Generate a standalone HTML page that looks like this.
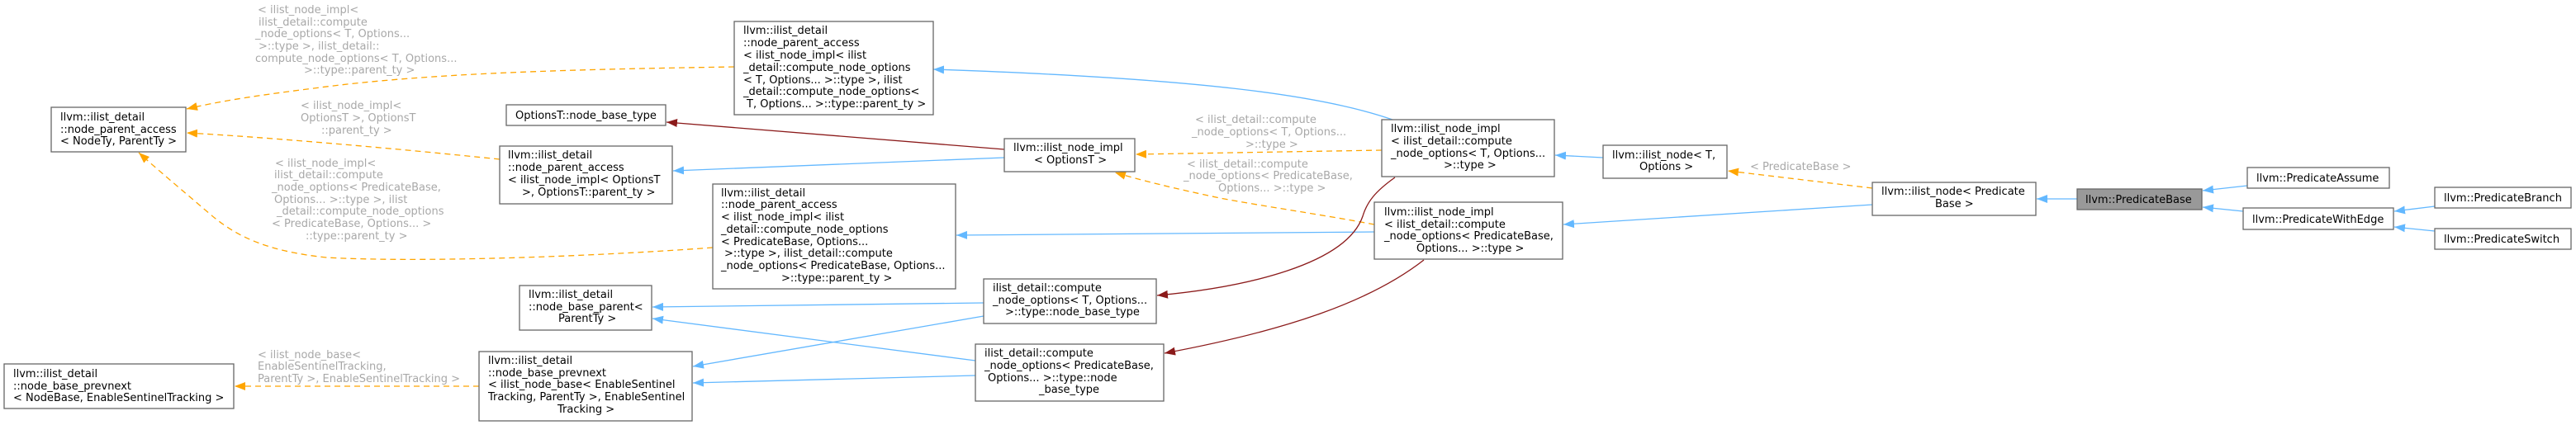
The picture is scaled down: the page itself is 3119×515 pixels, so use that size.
<!DOCTYPE html>
<html><head><meta charset="utf-8"><style>
html,body{margin:0;padding:0;background:#fff}
svg{display:block}
text{font-family:"DejaVu Sans","Liberation Sans",sans-serif;font-size:13px;fill:#000}
.l text, text.l{fill:#a8a8a8}
.n{fill:#fff;stroke:#666;stroke-width:1.3}
.b{fill:none;stroke:#63b8ff;stroke-width:1.3}
.o{fill:none;stroke:#ffa500;stroke-width:1.3;stroke-dasharray:7,5}
.r{fill:none;stroke:#8b1a1a;stroke-width:1.3}
</style></head><body>
<svg width="3119" height="515" viewBox="0 0 3119 515" xmlns="http://www.w3.org/2000/svg">
<defs>
<marker id="mb" markerWidth="14" markerHeight="10" refX="13" refY="5" orient="auto" markerUnits="userSpaceOnUse"><path d="M0,0 L13,5 L0,10 z" fill="#63b8ff"/></marker>
<marker id="mo" markerWidth="14" markerHeight="10" refX="13" refY="5" orient="auto" markerUnits="userSpaceOnUse"><path d="M0,0 L13,5 L0,10 z" fill="#ffa500"/></marker>
<marker id="mr" markerWidth="14" markerHeight="10" refX="13" refY="5" orient="auto" markerUnits="userSpaceOnUse"><path d="M0,0 L13,5 L0,10 z" fill="#8b1a1a"/></marker>
</defs>

<!-- edges -->
<path class="o" marker-end="url(#mo)" d="M889,81 C700,84 520,88 380,107 C300,117 260,124 226,132"/>
<path class="o" marker-end="url(#mo)" d="M605,193 C480,180 320,166 226,161"/>
<path class="o" marker-end="url(#mo)" d="M863,300 C700,312 500,318 395,312 C330,305 290,290 255,260 C220,230 190,205 168,185"/>
<path class="o" marker-end="url(#mo)" d="M580,468 L284,468"/>

<path class="b" marker-end="url(#mb)" d="M1686,145 C1600,115 1450,95 1130,84"/>
<path class="r" marker-end="url(#mr)" d="M1216,181 L807,148"/>
<path class="b" marker-end="url(#mb)" d="M1216,191 L815,207"/>
<path class="b" marker-end="url(#mb)" d="M1664,281 L1158,285"/>
<path class="b" marker-end="url(#mb)" d="M1191,367 L790,372"/>
<path class="b" marker-end="url(#mb)" d="M1181,437 L790,386"/>
<path class="b" marker-end="url(#mb)" d="M1191,383 L839,444"/>
<path class="b" marker-end="url(#mb)" d="M1181,455 L839,464"/>

<path class="o" marker-end="url(#mo)" d="M1673,182 L1375,187"/>
<path class="o" marker-end="url(#mo)" d="M1664,272 C1600,260 1530,250 1477,240 C1420,228 1380,218 1350,209"/>
<path class="r" marker-end="url(#mr)" d="M1689,215 C1665,232 1655,245 1650,262 C1630,320 1510,348 1401,358"/>
<path class="r" marker-end="url(#mr)" d="M1724,315 C1660,365 1560,400 1410,428"/>

<path class="b" marker-end="url(#mb)" d="M1941,191 L1883,188"/>
<path class="o" marker-end="url(#mo)" d="M2267,228 L2092,207"/>
<path class="b" marker-end="url(#mb)" d="M2267,248 L1893,272"/>

<path class="b" marker-end="url(#mb)" d="M2515,241 L2466,241"/>
<path class="b" marker-end="url(#mb)" d="M2721,225 L2667,231"/>
<path class="b" marker-end="url(#mb)" d="M2716,256 L2667,251"/>
<path class="b" marker-end="url(#mb)" d="M2948,250 L2899,256"/>
<path class="b" marker-end="url(#mb)" d="M2948,280 L2899,275"/>

<!-- edge labels -->
<g class="l">
<text x="312" y="16">&lt; ilist_node_impl&lt;</text>
<text x="313" y="31">ilist_detail::compute</text>
<text x="309" y="45">_node_options&lt; T, Options...</text>
<text x="313" y="60">&gt;::type &gt;, ilist_detail::</text>
<text x="309" y="75">compute_node_options&lt; T, Options...</text>
<text x="368" y="89">&gt;::type::parent_ty &gt;</text>

<text x="364" y="132">&lt; ilist_node_impl&lt;</text>
<text x="364" y="147">OptionsT &gt;, OptionsT</text>
<text x="389" y="162">::parent_ty &gt;</text>

<text x="333" y="202">&lt; ilist_node_impl&lt;</text>
<text x="332" y="216">ilist_detail::compute</text>
<text x="329" y="231">_node_options&lt; PredicateBase,</text>
<text x="332" y="246">Options... &gt;::type &gt;, ilist</text>
<text x="335" y="260">_detail::compute_node_options</text>
<text x="329" y="275">&lt; PredicateBase, Options... &gt;</text>
<text x="370" y="290">::type::parent_ty &gt;</text>

<text x="312" y="434">&lt; ilist_node_base&lt;</text>
<text x="312" y="448">EnableSentinelTracking,</text>
<text x="312" y="463">ParentTy &gt;, EnableSentinelTracking &gt;</text>

<text x="1447" y="149">&lt; ilist_detail::compute</text>
<text x="1443" y="164">_node_options&lt; T, Options...</text>
<text x="1508" y="179">&gt;::type &gt;</text>

<text x="1437" y="203">&lt; ilist_detail::compute</text>
<text x="1433" y="217">_node_options&lt; PredicateBase,</text>
<text x="1475" y="232">Options... &gt;::type &gt;</text>

<text x="2119" y="206">&lt; PredicateBase &gt;</text>
</g>

<!-- nodes -->
<rect class="n" x="62" y="130" width="163" height="54"/>
<text x="73" y="146">llvm::ilist_detail</text>
<text x="73" y="161">::node_parent_access</text>
<text x="73" y="175">&lt; NodeTy, ParentTy &gt;</text>

<rect class="n" x="5" y="441" width="278" height="54"/>
<text x="16" y="457">llvm::ilist_detail</text>
<text x="16" y="472">::node_base_prevnext</text>
<text x="16" y="486">&lt; NodeBase, EnableSentinelTracking &gt;</text>

<rect class="n" x="889" y="26" width="241" height="113"/>
<text x="900" y="41">llvm::ilist_detail</text>
<text x="900" y="56">::node_parent_access</text>
<text x="900" y="71">&lt; ilist_node_impl&lt; ilist</text>
<text x="900" y="86">_detail::compute_node_options</text>
<text x="900" y="101">&lt; T, Options... &gt;::type &gt;, ilist</text>
<text x="900" y="115">_detail::compute_node_options&lt;</text>
<text x="904" y="130">T, Options... &gt;::type::parent_ty &gt;</text>

<rect class="n" x="613" y="127" width="193" height="25"/>
<text x="624" y="144">OptionsT::node_base_type</text>

<rect class="n" x="605" y="177" width="209" height="70"/>
<text x="615" y="192">llvm::ilist_detail</text>
<text x="615" y="207">::node_parent_access</text>
<text x="615" y="222">&lt; ilist_node_impl&lt; OptionsT</text>
<text x="632" y="237">&gt;, OptionsT::parent_ty &gt;</text>

<rect class="n" x="863" y="223" width="294" height="127"/>
<text x="873" y="238">llvm::ilist_detail</text>
<text x="873" y="252">::node_parent_access</text>
<text x="873" y="267">&lt; ilist_node_impl&lt; ilist</text>
<text x="873" y="282">_detail::compute_node_options</text>
<text x="873" y="297">&lt; PredicateBase, Options...</text>
<text x="877" y="311">&gt;::type &gt;, ilist_detail::compute</text>
<text x="873" y="326">_node_options&lt; PredicateBase, Options...</text>
<text x="946" y="341">&gt;::type::parent_ty &gt;</text>

<rect class="n" x="629" y="346" width="160" height="54"/>
<text x="640" y="361">llvm::ilist_detail</text>
<text x="640" y="376">::node_base_parent&lt;</text>
<text x="676" y="390">ParentTy &gt;</text>

<rect class="n" x="580" y="426" width="258" height="84"/>
<text x="591" y="441">llvm::ilist_detail</text>
<text x="591" y="456">::node_base_prevnext</text>
<text x="591" y="470">&lt; ilist_node_base&lt; EnableSentinel</text>
<text x="591" y="485">Tracking, ParentTy &gt;, EnableSentinel</text>
<text x="675" y="500">Tracking &gt;</text>

<rect class="n" x="1191" y="338" width="209" height="54"/>
<text x="1202" y="353">ilist_detail::compute</text>
<text x="1202" y="368">_node_options&lt; T, Options...</text>
<text x="1217" y="382">&gt;::type::node_base_type</text>

<rect class="n" x="1181" y="417" width="228" height="69"/>
<text x="1192" y="432">ilist_detail::compute</text>
<text x="1192" y="447">_node_options&lt; PredicateBase,</text>
<text x="1196" y="462">Options... &gt;::type::node</text>
<text x="1258" y="476">_base_type</text>

<rect class="n" x="1216" y="168" width="158" height="40"/>
<text x="1227" y="183">llvm::ilist_node_impl</text>
<text x="1252" y="198">&lt; OptionsT &gt;</text>

<rect class="n" x="1673" y="145" width="209" height="69"/>
<text x="1684" y="160">llvm::ilist_node_impl</text>
<text x="1684" y="175">&lt; ilist_detail::compute</text>
<text x="1684" y="190">_node_options&lt; T, Options...</text>
<text x="1748" y="204">&gt;::type &gt;</text>

<rect class="n" x="1664" y="245" width="228" height="69"/>
<text x="1676" y="261">llvm::ilist_node_impl</text>
<text x="1676" y="276">&lt; ilist_detail::compute</text>
<text x="1676" y="290">_node_options&lt; PredicateBase,</text>
<text x="1715" y="305">Options... &gt;::type &gt;</text>

<rect class="n" x="1941" y="176" width="150" height="40"/>
<text x="1952" y="192">llvm::ilist_node&lt; T,</text>
<text x="1985" y="206">Options &gt;</text>

<rect class="n" x="2267" y="221" width="198" height="40"/>
<text x="2278" y="236">llvm::ilist_node&lt; Predicate</text>
<text x="2343" y="251">Base &gt;</text>

<rect x="2515" y="229" width="151" height="25" fill="#999" stroke="#666" stroke-width="1.3"/>
<text x="2525" y="246">llvm::PredicateBase</text>

<rect class="n" x="2721" y="203" width="172" height="25"/>
<text x="2732" y="220">llvm::PredicateAssume</text>

<rect class="n" x="2716" y="252" width="182" height="26"/>
<text x="2727" y="270">llvm::PredicateWithEdge</text>

<rect class="n" x="2948" y="227" width="165" height="25"/>
<text x="2959" y="244">llvm::PredicateBranch</text>

<rect class="n" x="2948" y="277" width="165" height="25"/>
<text x="2959" y="294">llvm::PredicateSwitch</text>
</svg>
</body></html>
